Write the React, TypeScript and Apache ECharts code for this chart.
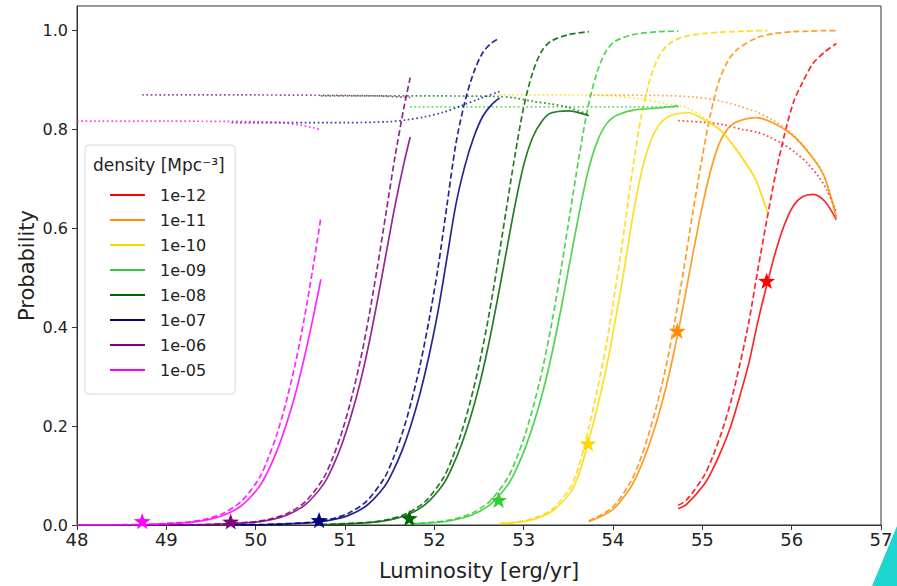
import React, { useEffect, useRef } from 'react';
import * as echarts from 'echarts';

const densities = ['1e-12', '1e-11', '1e-10', '1e-09', '1e-08', '1e-07', '1e-06', '1e-05'];
const colors = ['#ff0000', '#ff8c00', '#ffd700', '#32cd32', '#006400', '#000080', '#800080', '#ff00ff'];
const xTicks = [48, 49, 50, 51, 52, 53, 54, 55, 56, 57];
const yTicks = [0, 0.2, 0.4, 0.6, 0.8, 1.0];

// 1e-12
const lumE12 = [54.73, 54.82, 55.02, 55.12, 55.22, 55.32, 55.42, 55.52, 55.62, 55.72, 55.82, 55.92, 56.02, 56.12, 56.24, 56.37, 56.5];
const dashedE12 = [0.04, 0.05, 0.1, 0.14, 0.19, 0.25, 0.325, 0.41, 0.515, 0.615, 0.71, 0.79, 0.855, 0.895, 0.934, 0.957, 0.974];
const solidE12 = [0.033, 0.041, 0.082, 0.114, 0.154, 0.201, 0.261, 0.327, 0.41, 0.484, 0.553, 0.608, 0.646, 0.664, 0.669, 0.655, 0.618];
const ratioLumE12 = [54.73, 55.0, 55.23, 55.45, 55.61, 55.75, 55.91, 56.05, 56.17, 56.3, 56.39, 56.5];
const ratioE12 = [0.818, 0.815, 0.81, 0.80, 0.795, 0.785, 0.77, 0.752, 0.733, 0.705, 0.679, 0.634];

// 1e-11
const lumE11 = [53.73, 53.99, 54.19, 54.29, 54.39, 54.49, 54.59, 54.69, 54.79, 54.89, 54.99, 55.09, 55.19, 55.29, 55.39, 55.6, 55.8, 56.0, 56.2, 56.36, 56.5];
const dashedE11 = [0.008, 0.035, 0.085, 0.125, 0.178, 0.242, 0.318, 0.41, 0.515, 0.628, 0.735, 0.83, 0.9, 0.94, 0.962, 0.985, 0.994, 0.998, 0.999, 1.0, 1.0];
const solidE11 = [0.007, 0.03, 0.074, 0.109, 0.155, 0.21, 0.276, 0.356, 0.447, 0.544, 0.636, 0.715, 0.772, 0.803, 0.816, 0.824, 0.813, 0.79, 0.751, 0.707, 0.622];
const ratioLumE11 = [53.73, 54.5, 54.9, 55.2, 55.4, 55.6, 55.8, 56.0, 56.2, 56.36, 56.5];
const ratioE11 = [0.87, 0.869, 0.866, 0.858, 0.848, 0.836, 0.818, 0.792, 0.752, 0.708, 0.622];

// 1e-10
const lumE10 = [52.73, 52.92, 53.12, 53.32, 53.52, 53.62, 53.72, 53.82, 53.92, 54.02, 54.12, 54.22, 54.32, 54.42, 54.52, 54.62, 54.72, 54.85, 55.0, 55.2, 55.35, 55.5, 55.6, 55.73];
const dashedE10 = [0.003, 0.006, 0.014, 0.032, 0.075, 0.12, 0.19, 0.27, 0.36, 0.47, 0.59, 0.72, 0.83, 0.905, 0.95, 0.972, 0.983, 0.99, 0.994, 0.997, 0.998, 0.999, 1.0, 1.0];
const solidE10 = [0.0026, 0.0052, 0.012, 0.028, 0.065, 0.104, 0.165, 0.235, 0.313, 0.408, 0.511, 0.623, 0.715, 0.776, 0.811, 0.826, 0.832, 0.834, 0.822, 0.799, 0.767, 0.728, 0.698, 0.632];
const ratioLumE10 = [52.73, 53.5, 54.0, 54.3, 54.6, 54.8, 55.0, 55.2, 55.35, 55.5, 55.6, 55.73];
const ratioE10 = [0.87, 0.87, 0.868, 0.862, 0.852, 0.846, 0.827, 0.8, 0.768, 0.728, 0.698, 0.632];

// 1e-09
const lumE09 = [51.73, 52.02, 52.22, 52.42, 52.62, 52.82, 52.92, 53.02, 53.12, 53.22, 53.32, 53.42, 53.52, 53.62, 53.72, 53.82, 53.92, 54.02, 54.22, 54.52, 54.73];
const dashedE09 = [0.0025, 0.006, 0.012, 0.024, 0.048, 0.095, 0.135, 0.185, 0.248, 0.323, 0.414, 0.519, 0.632, 0.745, 0.845, 0.915, 0.958, 0.978, 0.992, 0.998, 0.999];
const solidE09 = [0.0021, 0.0051, 0.0102, 0.0203, 0.0406, 0.0804, 0.114, 0.157, 0.21, 0.273, 0.35, 0.439, 0.535, 0.63, 0.715, 0.774, 0.81, 0.827, 0.839, 0.844, 0.848];
const ratioLumE09 = [51.73, 52.5, 53.5, 54.2, 54.73];
const ratioE09 = [0.846, 0.846, 0.846, 0.846, 0.846];

// 1e-08
const lumE08 = [50.73, 50.8, 51.3, 51.5, 51.7, 51.9, 52.1, 52.2, 52.3, 52.4, 52.5, 52.6, 52.7, 52.8, 52.9, 53.0, 53.1, 53.2, 53.3, 53.5, 53.73];
const dashedE08 = [0.001, 0.0012, 0.006, 0.012, 0.024, 0.048, 0.095, 0.135, 0.185, 0.248, 0.323, 0.414, 0.519, 0.632, 0.745, 0.845, 0.915, 0.958, 0.978, 0.992, 0.998];
const solidE08 = [0.0009, 0.001, 0.0052, 0.0104, 0.0208, 0.0417, 0.0825, 0.117, 0.161, 0.215, 0.28, 0.359, 0.45, 0.547, 0.644, 0.728, 0.784, 0.816, 0.833, 0.838, 0.828];
const ratioLumE08 = [50.73, 52.0, 52.7, 52.9, 53.1, 53.3, 53.5, 53.73];
const ratioE08 = [0.868, 0.868, 0.867, 0.864, 0.857, 0.852, 0.845, 0.83];

// 1e-07
const lumE07 = [49.73, 50.14, 50.64, 50.84, 51.04, 51.24, 51.44, 51.54, 51.64, 51.74, 51.84, 51.94, 52.04, 52.14, 52.24, 52.34, 52.44, 52.54, 52.64, 52.73];
const dashedE07 = [0.0004, 0.0012, 0.006, 0.012, 0.024, 0.048, 0.095, 0.135, 0.185, 0.248, 0.323, 0.414, 0.519, 0.645, 0.77, 0.855, 0.915, 0.955, 0.975, 0.985];
const solidE07 = [0.0003, 0.001, 0.0049, 0.0098, 0.0195, 0.039, 0.0774, 0.11, 0.151, 0.203, 0.266, 0.342, 0.431, 0.539, 0.647, 0.725, 0.784, 0.826, 0.85, 0.864];
const ratioLumE07 = [49.73, 51.0, 51.5, 51.7, 51.9, 52.1, 52.3, 52.5, 52.73];
const ratioE07 = [0.814, 0.814, 0.816, 0.82, 0.826, 0.835, 0.848, 0.862, 0.877];

// 1e-06
const lumE06 = [48.73, 49.46, 49.96, 50.16, 50.36, 50.56, 50.76, 50.86, 50.96, 51.06, 51.16, 51.26, 51.36, 51.46, 51.56, 51.66, 51.73];
const dashedE06 = [0.0002, 0.0012, 0.006, 0.012, 0.024, 0.048, 0.095, 0.135, 0.185, 0.248, 0.323, 0.414, 0.519, 0.632, 0.745, 0.845, 0.905];
const solidE06 = [0.0002, 0.001, 0.0052, 0.0104, 0.0209, 0.0418, 0.0827, 0.117, 0.161, 0.216, 0.281, 0.36, 0.451, 0.549, 0.646, 0.732, 0.785];
const ratioLumE06 = [48.73, 50.0, 51.0, 51.4, 51.6, 51.73];
const ratioE06 = [0.87, 0.87, 0.869, 0.868, 0.866, 0.865];

// 1e-05
const lumE05 = [48.0, 48.74, 49.24, 49.44, 49.64, 49.84, 50.04, 50.14, 50.24, 50.34, 50.44, 50.54, 50.64, 50.73];
const dashedE05 = [0.0002, 0.0012, 0.006, 0.012, 0.024, 0.048, 0.095, 0.135, 0.185, 0.248, 0.323, 0.414, 0.519, 0.622];
const solidE05 = [0.0002, 0.001, 0.0049, 0.0098, 0.0196, 0.039, 0.0775, 0.11, 0.151, 0.202, 0.262, 0.335, 0.417, 0.497];
const ratioLumE05 = [48.0, 49.0, 50.0, 50.3, 50.5, 50.64, 50.73];
const ratioE05 = [0.817, 0.817, 0.816, 0.814, 0.809, 0.804, 0.8];

// star markers (one per density, same order)
const starLum = [55.72, 54.72, 53.72, 52.72, 51.72, 50.71, 49.72, 48.73];
const starProb = [0.494, 0.393, 0.165, 0.051, 0.014, 0.01, 0.007, 0.008];

const families = [
  { lum: lumE12, solid: solidE12, dashed: dashedE12, rLum: ratioLumE12, ratio: ratioE12 },
  { lum: lumE11, solid: solidE11, dashed: dashedE11, rLum: ratioLumE11, ratio: ratioE11 },
  { lum: lumE10, solid: solidE10, dashed: dashedE10, rLum: ratioLumE10, ratio: ratioE10 },
  { lum: lumE09, solid: solidE09, dashed: dashedE09, rLum: ratioLumE09, ratio: ratioE09 },
  { lum: lumE08, solid: solidE08, dashed: dashedE08, rLum: ratioLumE08, ratio: ratioE08 },
  { lum: lumE07, solid: solidE07, dashed: dashedE07, rLum: ratioLumE07, ratio: ratioE07 },
  { lum: lumE06, solid: solidE06, dashed: dashedE06, rLum: ratioLumE06, ratio: ratioE06 },
  { lum: lumE05, solid: solidE05, dashed: dashedE05, rLum: ratioLumE05, ratio: ratioE05 },
];

const zip = (xs: number[], ys: number[]) => xs.map((x, i) => [x, ys[i]]);

const STAR =
  'path://M0,-10L2.35,-3.24L9.51,-3.09L3.8,1.24L5.88,8.09L0,4L-5.88,8.09L-3.8,1.24L-9.51,-3.09L-2.35,-3.24Z';

const FONT = 'DejaVu Sans';

export default function App() {
  const ref = useRef<HTMLDivElement>(null);

  useEffect(() => {
    document.body.style.margin = '0';
    if (!ref.current) return;
    const chart = echarts.init(ref.current, null, { renderer: 'svg' });

    const series: any[] = [];
    families.forEach((f, i) => {
      const color = colors[i];
      series.push({
        type: 'line',
        name: densities[i],
        data: zip(f.lum, f.solid),
        symbol: 'none',
        showSymbol: false,
        smooth: 0.3,
        itemStyle: { color },
        lineStyle: { color, width: 1.7, opacity: 0.85 },
        z: 2,
      });
      series.push({
        type: 'line',
        name: densities[i] + ' dashed',
        data: zip(f.lum, f.dashed),
        symbol: 'none',
        showSymbol: false,
        smooth: 0.3,
        itemStyle: { color },
        lineStyle: { color, width: 1.7, opacity: 0.85, type: [6, 3] },
        z: 2,
      });
      series.push({
        type: 'line',
        name: densities[i] + ' dotted',
        data: zip(f.rLum, f.ratio),
        symbol: 'none',
        showSymbol: false,
        smooth: 0.3,
        itemStyle: { color },
        lineStyle: { color, width: 1.7, opacity: 0.75, type: [1.7, 2.6] },
        z: 2,
      });
      series.push({
        type: 'scatter',
        name: densities[i] + ' star',
        data: [[starLum[i], starProb[i]]],
        symbol: STAR,
        symbolSize: 17,
        symbolKeepAspect: true,
        itemStyle: { color, opacity: 1 },
        z: 5,
      });
    });

    chart.setOption({
      animation: false,
      textStyle: { fontFamily: FONT },
      grid: {
        left: 77,
        right: 16,
        top: 6,
        bottom: 59,
        show: true,
        borderColor: '#333',
        borderWidth: 1,
        backgroundColor: 'transparent',
      },
      xAxis: {
        type: 'value',
        min: xTicks[0],
        max: xTicks[xTicks.length - 1],
        interval: 1,
        name: 'Luminosity [erg/yr]',
        nameLocation: 'middle',
        nameGap: 35,
        nameMoveOverlap: false,
        nameTextStyle: { fontSize: 21, color: '#222', fontFamily: FONT },
        axisLine: { show: true, lineStyle: { color: '#333' } },
        axisTick: { show: true, inside: false, length: 5, lineStyle: { color: '#333' } },
        axisLabel: { fontSize: 18, color: '#222', margin: 5, fontFamily: FONT, formatter: (v: number) => String(v) },
        splitLine: { show: false },
      },
      yAxis: {
        type: 'value',
        min: 0,
        max: 1.05,
        interval: 0.2,
        name: 'Probability',
        nameLocation: 'middle',
        nameGap: 40,
        nameMoveOverlap: false,
        nameRotate: 90,
        nameTextStyle: { fontSize: 21, color: '#222', fontFamily: FONT },
        axisLine: { show: true, lineStyle: { color: '#333' } },
        axisTick: { show: true, inside: false, length: 5, lineStyle: { color: '#333' }, customValues: yTicks },
        axisLabel: {
          fontSize: 16,
          color: '#222',
          margin: 9,
          fontFamily: FONT,
          customValues: yTicks,
          formatter: (v: number) => v.toFixed(1),
        },
        splitLine: { show: false },
      },
      legend: {
        data: densities,
        orient: 'vertical',
        left: 85,
        top: 145,
        icon: 'rect',
        itemWidth: 35,
        itemHeight: 2,
        itemGap: 9,
        padding: [42, 29, 16, 25],
        borderColor: '#d8d8d8',
        borderWidth: 1,
        borderRadius: 4,
        backgroundColor: 'rgba(255,255,255,0.85)',
        textStyle: { fontSize: 16, color: '#222', fontFamily: FONT, lineHeight: 16, padding: [0, 0, 0, 10] },
        z: 10,
      },
      graphic: [
        {
          type: 'text',
          left: 93,
          top: 156,
          z: 20,
          style: { text: 'density [Mpc⁻³]', fontSize: 17, fontFamily: FONT, fill: '#222' },
        },
        {
          type: 'polygon',
          z: 30,
          shape: { points: [[872, 586], [897, 526], [897, 586]] },
          style: { fill: '#1ed6cf' },
        },
      ],
      series,
    });

    return () => chart.dispose();
  }, []);

  return <div ref={ref} style={{ width: 897, height: 586 }} />;
}
